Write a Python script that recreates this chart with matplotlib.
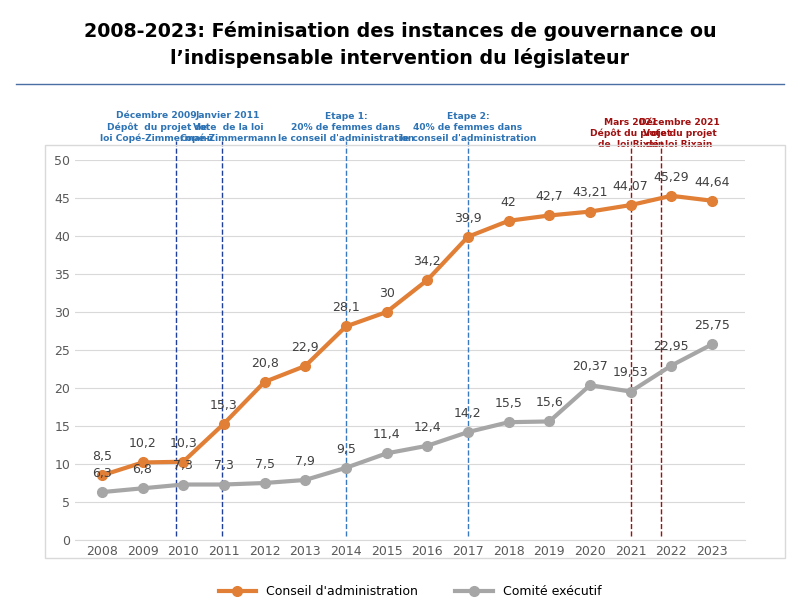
import matplotlib
matplotlib.use("Agg")
import matplotlib.pyplot as plt
from matplotlib.lines import Line2D

years = list(range(2008, 2024))
conseil = [8.5, 10.2, 10.3, 15.3, 20.8, 22.9, 28.1, 30, 34.2, 39.9, 42, 42.7, 43.21, 44.07, 45.29, 44.64]
comite = [6.3, 6.8, 7.3, 7.3, 7.5, 7.9, 9.5, 11.4, 12.4, 14.2, 15.5, 15.6, 20.37, 19.53, 22.95, 25.75]
conseil_lbl = ["8,5", "10,2", "10,3", "15,3", "20,8", "22,9", "28,1", "30", "34,2", "39,9", "42", "42,7", "43,21", "44,07", "45,29", "44,64"]
comite_lbl = ["6,3", "6,8", "7,3", "7,3", "7,5", "7,9", "9,5", "11,4", "12,4", "14,2", "15,5", "15,6", "20,37", "19,53", "22,95", "25,75"]

events_x = [2009.82, 2010.96, 2014.0, 2017.0, 2021.0, 2021.75]
events_txt = ["Décembre 2009\nDépôt  du projet de\nloi Copé-Zimmermann",
              "Janvier 2011\nVote  de la loi\nCopé-Zimmermann",
              "Etape 1:\n20% de femmes dans\nle conseil d'administration",
              "Etape 2:\n40% de femmes dans\nle conseil d'administration",
              "Mars 2021\nDépôt du projet\nde  loi Rixain",
              "Décembre 2021\nVote du projet\nde  loi Rixain"]
events_col = ["#1f3f9a", "#1f3f9a", "#3a78c0", "#3a78c0", "#a01010", "#a01010"]
txt_col = ["#2e74b5", "#2e74b5", "#2e74b5", "#2e74b5", "#a01010", "#a01010"]
txt_x = [2009.35, 2011.1, 2014.0, 2017.0, 2021.0, 2022.2]
txt_y = [52.2, 52.2, 52.2, 52.2, 51.4, 51.4]

orange = "#e07f35"
grey = "#a6a6a6"

fig = plt.figure(figsize=(8, 6.03), dpi=100)
fig.text(0.5, 0.965, "2008-2023: Féminisation des instances de gouvernance ou\nl’indispensable intervention du législateur",
         ha="center", va="top", fontsize=13.7, fontweight="bold", linespacing=1.45)
fig.add_artist(Line2D([0.02, 0.98], [0.86, 0.86], color="#4a6fa5", lw=1))
fig.add_artist(plt.Rectangle((0.056, 0.075), 0.925, 0.685, fill=False, ec="#d9d9d9", lw=1))

ax = fig.add_axes([75 / 800, 1 - 540 / 603, 670 / 800, 380 / 603])
ax.set_xlim(2007.34, 2023.81)
ax.set_ylim(0, 50)
ax.set_yticks(range(0, 51, 5))
ax.set_xticks(years)
ax.yaxis.grid(True, color="#d9d9d9", lw=0.8)
ax.set_axisbelow(True)
for s in ["top", "right", "left"]:
    ax.spines[s].set_visible(False)
ax.spines["bottom"].set_color("#d9d9d9")
ax.tick_params(length=0, labelsize=9, colors="#595959")

ax.plot(years, conseil, color=orange, lw=3, marker="o", ms=7, label="Conseil d'administration", zorder=3)
ax.plot(years, comite, color=grey, lw=3, marker="o", ms=7, label="Comité exécutif", zorder=3)
for x, v, t in zip(years, conseil, conseil_lbl):
    ax.text(x, v + 1.6, t, ha="center", va="bottom", fontsize=9, color="#404040")
for x, v, t in zip(years, comite, comite_lbl):
    ax.text(x, v + 1.6, t, ha="center", va="bottom", fontsize=9, color="#404040")

for x, c, t, tc, tx, ty in zip(events_x, events_col, events_txt, txt_col, txt_x, txt_y):
    ax.plot([x, x], [0.5, 52.5], ls="--", color=c, lw=1, clip_on=False, zorder=2)
    ax.text(tx, ty, t, ha="center", va="bottom", fontsize=6.6, fontweight="bold",
            color=tc, linespacing=1.3, clip_on=False)

ax.legend(loc="upper center", bbox_to_anchor=(0.5, -0.09), ncol=2, frameon=False, fontsize=9,
          handlelength=3, columnspacing=3)
fig.savefig("out.png", dpi=100)
